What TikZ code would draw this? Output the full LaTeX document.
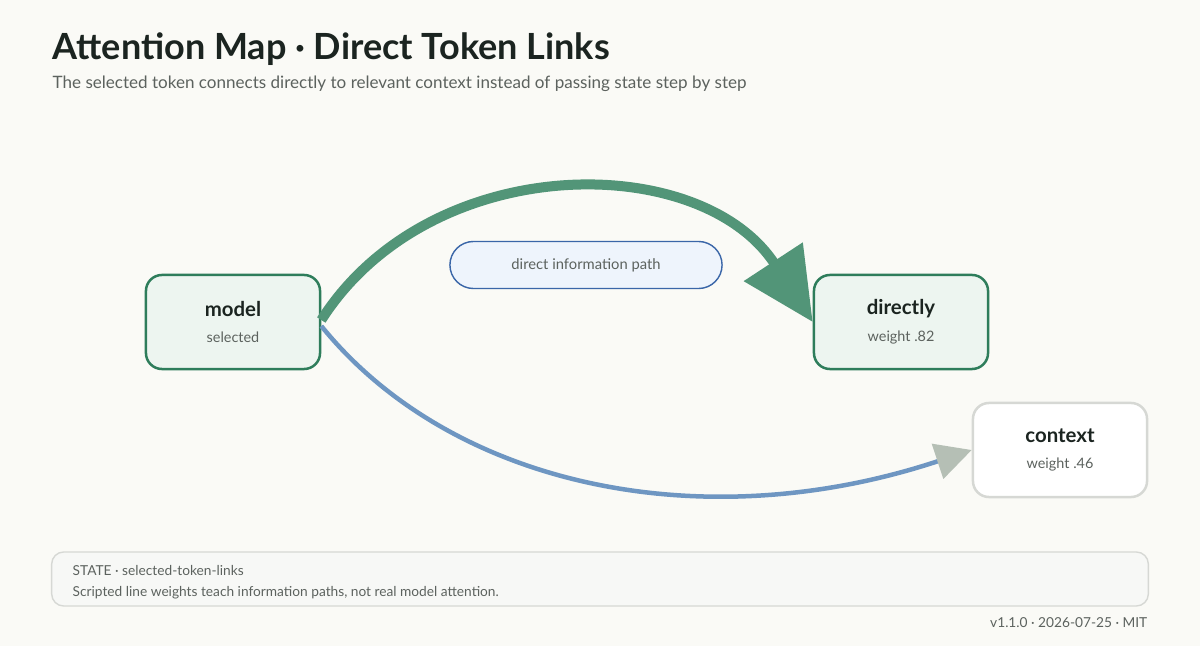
\documentclass[tikz,border=0pt]{standalone}
\usepackage{fontspec}
\setmainfont{Lato}
\usetikzlibrary{arrows.meta,positioning}
\definecolor{bg}{HTML}{FAFAF6}
\definecolor{ink}{HTML}{1B2420}
\definecolor{sub}{HTML}{5C625E}
\definecolor{green}{HTML}{2E7D5B}
\definecolor{greenfill}{HTML}{EDF5F0}
\definecolor{greenline}{HTML}{529578}
\definecolor{blueline}{HTML}{6E96C2}
\definecolor{blueedge}{HTML}{3A66A8}
\definecolor{bluefill}{HTML}{EEF4FC}
\definecolor{greyedge}{HTML}{D6D8D4}
\definecolor{headgrey}{HTML}{B5BFB5}
\definecolor{notefill}{HTML}{F7F8F6}
\tikzset{
  token/.style={draw, line width=2.5pt*0.2845, rounded corners=1.6mm,
    minimum width=1.74cm, minimum height=0.94cm, align=center, inner sep=0pt,
    font=\fontsize{4}{4}\selectfont},
  chosen/.style={token, draw=green, fill=greenfill},
  plain/.style={token, draw=greyedge, fill=white},
  label/.style={inner sep=0pt, text=sub},
}
\newcommand{\tok}[2]{{\fontsize{5.8}{4}\selectfont\bfseries\color{ink}#1}\\[3.6pt]{\fontsize{4.1}{4}\selectfont\color{sub}#2}}
\begin{document}
\begin{tikzpicture}[x=0.01cm,y=-0.01cm]
    \fill[bg] (0,0) rectangle (1200,646);
    \useasboundingbox (0,0) rectangle (1200,646);

    \node[label, anchor=base west, text=ink, font=\fontsize{10.25}{11}\selectfont\bfseries] (title) at (52,60) {Attention Map · Direct Token Links};
    \node[label, anchor=base west, font=\fontsize{4.85}{5}\selectfont] (subtitle) at (52,89) {The selected token connects directly to relevant context instead of passing state step by step};

    \node[chosen] (model) at (233,322) {\tok{model}{selected}};
    \node[chosen] (directly) at (901,322) {\tok{directly}{weight .82}};
    \node[plain] (context) at (1060,450) {\tok{context}{weight .46}};

    \node[draw=blueedge, fill=bluefill, line width=0.4pt, rounded corners=2.35mm,
      minimum width=2.72cm, minimum height=0.47cm, text=sub,
      font=\fontsize{4.2}{4.5}\selectfont] (path) at (586,265) {direct information path};

    \draw[greenline, line width=10pt*0.2845, -{Triangle[length=0.72cm,width=0.68cm]}]
      (model.east) ++(0,-2) coordinate (g0)
      (g0) .. controls (430,150) and (700,150) .. (directly.west);
    \draw[blueline, line width=4.5pt*0.2845, -{Triangle[length=0.36cm,width=0.36cm,color=headgrey]}]
      (model.east) ++(0,4) coordinate (b0)
      (b0) .. controls (450,485) and (700,540) .. (context.west);

    \node[draw=greyedge, fill=notefill, rounded corners=1.2mm, line width=0.4pt,
      minimum width=10.96cm, minimum height=0.54cm] (note) at (600,579) {};
    \node[label, anchor=base west, font=\fontsize{3.9}{4}\selectfont] (state) at (72,575) {STATE · selected-token-links};
    \node[label, anchor=base west, font=\fontsize{3.9}{4}\selectfont] (hint) at (72,596) {Scripted line weights teach information paths, not real model attention.};
    \node[label, anchor=base east, font=\fontsize{3.9}{4}\selectfont] (version) at (1148,627) {v1.1.0 · 2026-07-25 · MIT};
\end{tikzpicture}
\end{document}
